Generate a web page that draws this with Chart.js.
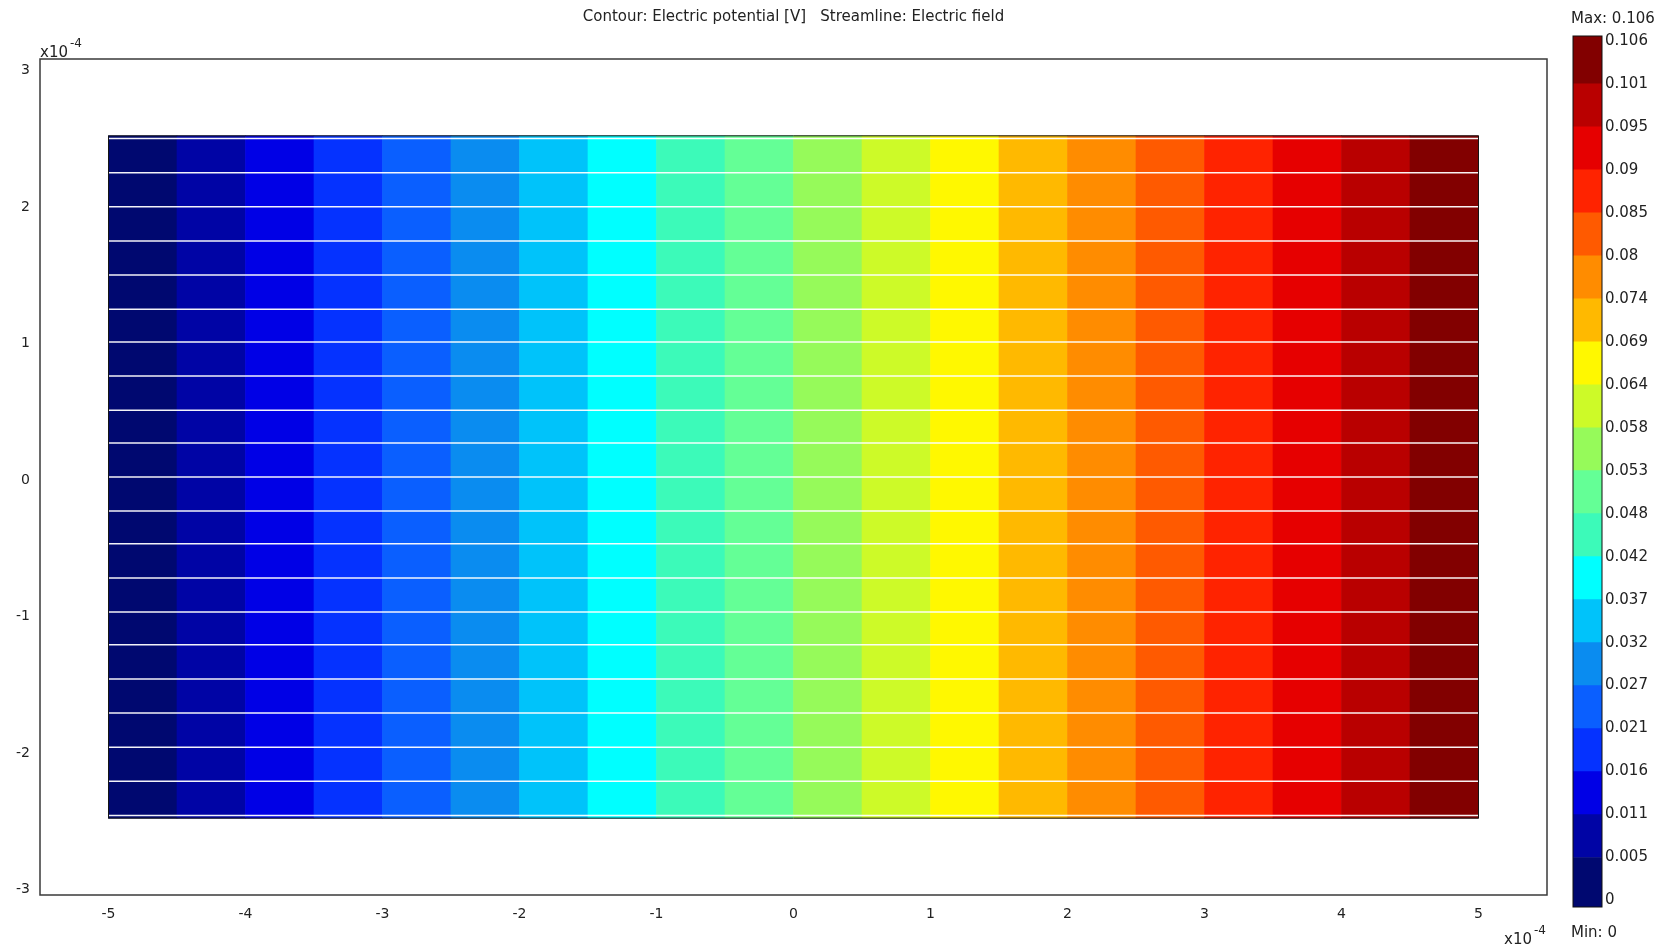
<!DOCTYPE html>
<html><head><meta charset="utf-8">
<script src="https://cdn.jsdelivr.net/npm/chart.js@4/dist/chart.umd.min.js"></script>
<style>
body{margin:0;background:#fff;width:1675px;height:949px;overflow:hidden;position:relative;font-family:"DejaVu Sans",sans-serif;}
canvas{position:absolute;top:0;}
#main{left:0;}
#cbar{left:1555px;}
.lbl{position:absolute;font-size:15px;line-height:15px;color:#222;white-space:nowrap;}
.sup{font-size:12px;line-height:12px;}
</style></head><body>
<canvas id="main" width="1675" height="949"></canvas>
<canvas id="cbar" width="120" height="949"></canvas>
<div class="lbl" style="left:40px;top:45px;">x10</div>
<div class="lbl sup" style="left:70px;top:37px;">-4</div>
<div class="lbl" style="left:1504px;top:932px;">x10</div>
<div class="lbl sup" style="left:1534px;top:924px;">-4</div>
<div class="lbl" style="left:1571px;top:11px;">Max: 0.106</div>
<div class="lbl" style="left:1571px;top:925px;">Min: 0</div>
<script>
// ---- data (x, y in units of 1e-4 m; potential in V) ----
const titleText = 'Contour: Electric potential [V]   Streamline: Electric field';
const bandX = [-4.75,-4.25,-3.75,-3.25,-2.75,-2.25,-1.75,-1.25,-0.75,-0.25,0.25,0.75,1.25,1.75,2.25,2.75,3.25,3.75,4.25,4.75];
const bandColors = ['#000870','#0004a5','#0000e6','#0532ff','#0a5fff','#0a8cf0','#00c3fa','#00ffff','#3cfab9','#64ff96',
                    '#96fa5a','#cdfa28','#fff800','#ffb900','#ff8c00','#ff5a00','#ff2300','#e60000','#b90000','#820000'];
const domainX = [-5, 5];
const domainY = [-2.5, 2.5];
const streamY = [-2.48,-2.23,-1.98,-1.73,-1.48,-1.23,-0.99,-0.74,-0.49,-0.25,0,0.25,0.49,0.74,0.99,1.23,1.48,1.73,1.98,2.23,2.48];
const xTicks = [-5,-4,-3,-2,-1,0,1,2,3,4,5];
const yTicks = [-3,-2,-1,0,1,2,3];
const levels = [0,0.0053,0.0106,0.0159,0.0212,0.0265,0.0318,0.0371,0.0424,0.0477,0.053,0.0583,0.0636,0.0689,0.0742,0.0795,0.0848,0.0901,0.0954,0.1007,0.106];
const levelLabels = ['0','0.005','0.011','0.016','0.021','0.027','0.032','0.037','0.042','0.048','0.053','0.058','0.064','0.069','0.074','0.08','0.085','0.09','0.095','0.101','0.106'];

Chart.defaults.font.family = '"DejaVu Sans", sans-serif';
Chart.defaults.color = '#222';

const frame = {
  id: 'frame',
  afterDraw(chart, args, opts) {
    const a = chart.chartArea, ctx = chart.ctx;
    ctx.save();
    ctx.strokeStyle = opts.color;
    ctx.lineWidth = opts.width;
    ctx.strokeRect(a.left, a.top, a.right - a.left, a.bottom - a.top);
    ctx.restore();
  }
};

const datasets = [{
  type: 'bar',
  data: bandX.map(x => ({x: x, y: domainY})),
  backgroundColor: bandColors,
  borderWidth: 0,
  barPercentage: 1,
  categoryPercentage: 1,
  order: 5
}];
streamY.forEach(y => datasets.push({
  type: 'line',
  data: domainX.map(x => ({x: x, y: y})),
  borderColor: 'rgba(255,255,255,0.95)',
  borderWidth: 1.5,
  pointRadius: 0,
  order: 2
}));
datasets.push({
  type: 'line',
  data: [{x: domainX[0], y: domainY[0]}, {x: domainX[1], y: domainY[0]}, {x: domainX[1], y: domainY[1]}, {x: domainX[0], y: domainY[1]}, {x: domainX[0], y: domainY[0]}],
  borderColor: '#141414',
  borderWidth: 1,
  pointRadius: 0,
  order: 1
});

new Chart(document.getElementById('main'), {
  type: 'bar',
  data: {datasets},
  plugins: [frame],
  options: {
    responsive: false,
    animation: false,
    devicePixelRatio: 1,
    layout: {padding: {top: 0, right: 128, left: 0, bottom: 0}},
    plugins: {
      legend: {display: false},
      tooltip: {enabled: false},
      title: {display: true, text: titleText, fullSize: false, font: {size: 15, weight: 'normal'}, color: '#222', padding: {top: 8, bottom: 33}},
      frame: {color: '#3a3a3a', width: 1.5}
    },
    scales: {
      x: {
        type: 'linear', min: -5.5, max: 5.5, offset: false,
        grid: {display: false, drawTicks: false}, border: {display: false},
        afterBuildTicks: s => { s.ticks = xTicks.map(v => ({value: v})); },
        afterFit: s => { s.height = 54; },
        ticks: {font: {size: 14}, padding: 11, color: '#222', maxRotation: 0, autoSkip: false}
      },
      y: {
        type: 'linear', min: -3.063, max: 3.063,
        grid: {display: false, drawTicks: false}, border: {display: false},
        afterBuildTicks: s => { s.ticks = yTicks.map(v => ({value: v})); },
        afterFit: s => { s.width = 40; },
        ticks: {font: {size: 14}, padding: 10, labelOffset: 3, color: '#222', autoSkip: false}
      }
    }
  }
});

// ---- colour bar ----
const cbMin = -0.0008, cbMax = 0.1066;
const cbSets = bandColors.map((c, i) => ({
  data: [[i === 0 ? cbMin : levels[i], i === bandColors.length - 1 ? cbMax : levels[i + 1]]],
  backgroundColor: c,
  borderWidth: 0,
  grouped: false,
  barPercentage: 1,
  categoryPercentage: 1
}));
new Chart(document.getElementById('cbar'), {
  type: 'bar',
  data: {labels: [''], datasets: cbSets},
  plugins: [frame],
  options: {
    responsive: false,
    animation: false,
    devicePixelRatio: 1,
    layout: {padding: {top: 36, bottom: 42, left: 18, right: 0}},
    plugins: {legend: {display: false}, tooltip: {enabled: false}, frame: {color: '#111', width: 1}},
    scales: {
      x: {display: false, offset: true},
      y: {
        position: 'right', min: cbMin, max: cbMax,
        grid: {display: false, drawTicks: false}, border: {display: false},
        afterBuildTicks: s => { s.ticks = levels.map(v => ({value: v})); },
        afterFit: s => { s.width = 73; },
        ticks: {font: {size: 15}, padding: 3, color: '#222', autoSkip: false, callback: (v, i) => levelLabels[i]}
      }
    }
  }
});
</script>
</body></html>
